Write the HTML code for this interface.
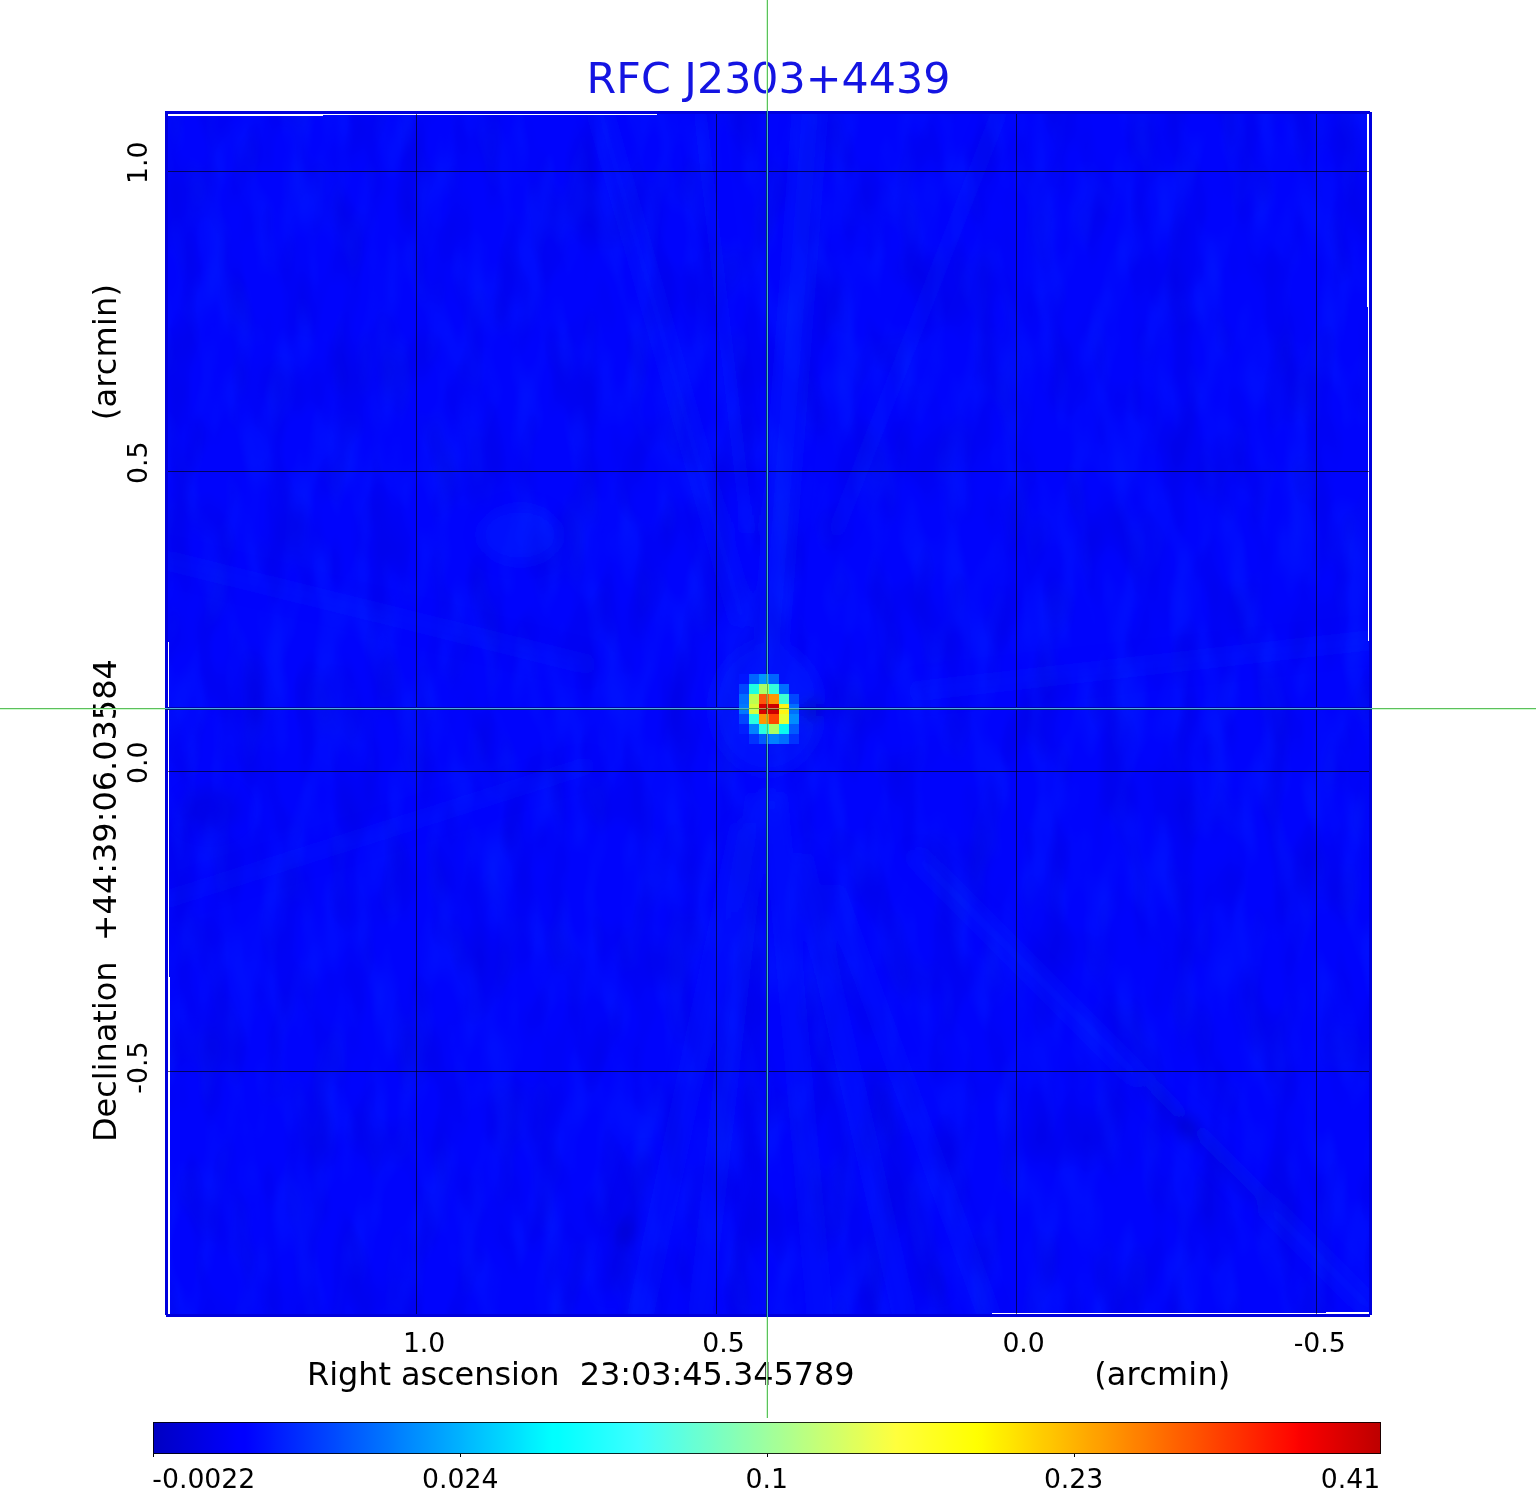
<!DOCTYPE html>
<html lang="en"><head><meta charset="utf-8"><title>RFC J2303+4439</title>
<style>html,body{margin:0;padding:0;background:#fff}body{width:1536px;height:1511px;overflow:hidden}svg{display:block}text{font-family:"DejaVu Sans","Liberation Sans",sans-serif}</style>
</head><body>
<svg width="1536" height="1511" viewBox="0 0 1536 1511">
<rect width="1536" height="1511" fill="#fff"/>
<g shape-rendering="crispEdges">
<rect x="165" y="111" width="1207" height="1206" fill="#0004fc"/>
</g>
<defs><filter id="bl" x="-5%" y="-5%" width="110%" height="110%"><feGaussianBlur stdDeviation="8"/></filter><clipPath id="imclip"><rect x="168" y="114" width="1201" height="1200"/></clipPath></defs>
<defs><filter id="nz" x="0" y="0" width="100%" height="100%" color-interpolation-filters="sRGB"><feTurbulence type="fractalNoise" baseFrequency="0.035 0.012" numOctaves="2" seed="7" result="t"/><feColorMatrix in="t" type="matrix" values="0 0 0 0 0  0 0 0 0 0.15  0 0 0 0 1  1.0 0 0 0 -0.44"/></filter><filter id="nz2" x="0" y="0" width="100%" height="100%" color-interpolation-filters="sRGB"><feTurbulence type="fractalNoise" baseFrequency="0.03 0.012" numOctaves="2" seed="23" result="t"/><feColorMatrix in="t" type="matrix" values="0 0 0 0 0  0 0 0 0 0  0 0 0 0 0.84  1.0 0 0 0 -0.44"/></filter></defs>
<rect x="168" y="114" width="1201" height="1200" filter="url(#nz)"/>
<rect x="168" y="114" width="1201" height="1200" filter="url(#nz2)"/>
<g clip-path="url(#imclip)"><g filter="url(#bl)" fill="none" stroke-linecap="round">
<line x1="772" y1="636" x2="810" y2="111" stroke="rgb(0,44,255)" stroke-width="26" stroke-opacity="0.36"/>
<line x1="742" y1="618" x2="600" y2="111" stroke="rgb(0,44,255)" stroke-width="18" stroke-opacity="0.28"/>
<line x1="747" y1="529" x2="700" y2="111" stroke="rgb(0,44,255)" stroke-width="14" stroke-opacity="0.20"/>
<line x1="837" y1="529" x2="1000" y2="111" stroke="rgb(0,44,255)" stroke-width="16" stroke-opacity="0.18"/>
<line x1="742" y1="830" x2="640" y2="1317" stroke="rgb(0,44,255)" stroke-width="16" stroke-opacity="0.28"/>
<line x1="757" y1="799" x2="700" y2="1317" stroke="rgb(0,44,255)" stroke-width="14" stroke-opacity="0.32"/>
<line x1="756" y1="952" x2="740" y2="1317" stroke="rgb(0,0,200)" stroke-width="10" stroke-opacity="0.24"/>
<line x1="775" y1="799" x2="820" y2="1317" stroke="rgb(0,44,255)" stroke-width="16" stroke-opacity="0.32"/>
<line x1="813" y1="982" x2="870" y2="1317" stroke="rgb(0,0,200)" stroke-width="10" stroke-opacity="0.24"/>
<line x1="802" y1="860" x2="905" y2="1317" stroke="rgb(0,44,255)" stroke-width="14" stroke-opacity="0.32"/>
<line x1="874" y1="1073" x2="936" y2="1287" stroke="rgb(0,0,200)" stroke-width="10" stroke-opacity="0.36"/>
<line x1="834" y1="891" x2="990" y2="1317" stroke="rgb(0,44,255)" stroke-width="14" stroke-opacity="0.24"/>
<line x1="645" y1="1159" x2="610" y2="1287" stroke="rgb(0,0,200)" stroke-width="10" stroke-opacity="0.44"/>
<ellipse cx="625" cy="1232" rx="7" ry="14" fill="rgb(0,0,170)" fill-opacity="0.6" transform="rotate(14 625 1232)"/>
<line x1="918" y1="858" x2="1372" y2="1310" stroke="rgb(0,44,255)" stroke-width="18" stroke-opacity="0.24"/>
<line x1="1142" y1="1083" x2="1263" y2="1204" stroke="rgb(0,0,200)" stroke-width="10" stroke-opacity="0.44"/>
<ellipse cx="1187" cy="1127" rx="7" ry="13" fill="rgb(0,0,170)" fill-opacity="0.6" transform="rotate(-45 1187 1127)"/>
<line x1="586" y1="664" x2="165" y2="560" stroke="rgb(0,44,255)" stroke-width="20" stroke-opacity="0.18"/>
<line x1="918" y1="691" x2="1372" y2="640" stroke="rgb(0,44,255)" stroke-width="20" stroke-opacity="0.18"/>
<line x1="586" y1="766" x2="165" y2="900" stroke="rgb(0,44,255)" stroke-width="18" stroke-opacity="0.14"/>
<ellipse cx="520" cy="535" rx="40" ry="28" fill="rgb(0,44,255)" fill-opacity="0.35"/>
<ellipse cx="210" cy="810" rx="30" ry="20" fill="rgb(0,0,200)" fill-opacity="0.30"/>
<ellipse cx="767" cy="708" rx="55" ry="65" fill="rgb(0,44,255)" fill-opacity="0.30"/>
<ellipse cx="812" cy="710" rx="10" ry="8" fill="rgb(0,0,170)" fill-opacity="0.8"/>
</g></g>
<g shape-rendering="crispEdges">
<rect x="168" y="114" width="489" height="1" fill="#fff"/>
<rect x="168" y="115" width="155" height="1" fill="#fff"/>
<rect x="1368" y="114" width="1" height="527" fill="#fff"/>
<rect x="1367" y="114" width="1" height="193" fill="#fff"/>
<rect x="992" y="1313" width="377" height="1" fill="#fff"/>
<rect x="1326" y="1312" width="43" height="1" fill="#fff"/>
<rect x="168" y="642" width="1" height="672" fill="#fff"/>
<rect x="169" y="977" width="1" height="337" fill="#fff"/>
<rect x="416" y="114" width="1" height="1200" fill="#000" fill-opacity="0.6"/>
<rect x="716" y="114" width="1" height="1200" fill="#000" fill-opacity="0.6"/>
<rect x="1016" y="114" width="1" height="1200" fill="#000" fill-opacity="0.6"/>
<rect x="1316" y="114" width="1" height="1200" fill="#000" fill-opacity="0.6"/>
<rect x="168" y="171" width="1201" height="1" fill="#000" fill-opacity="0.6"/>
<rect x="168" y="471" width="1201" height="1" fill="#000" fill-opacity="0.6"/>
<rect x="168" y="771" width="1201" height="1" fill="#000" fill-opacity="0.6"/>
<rect x="168" y="1071" width="1201" height="1" fill="#000" fill-opacity="0.6"/>
<rect x="165" y="111" width="1207" height="3" fill="#0000dc"/>
<rect x="165" y="1314" width="1207" height="3" fill="#0000dc"/>
<rect x="165" y="111" width="3" height="1206" fill="#0000dc"/>
<rect x="1369" y="111" width="3" height="1206" fill="#0000dc"/>
<rect x="1370" y="111" width="2" height="1" fill="#fff"/>
<rect x="1370" y="1315" width="2" height="2" fill="#fff"/>
<rect x="165" y="1315" width="1" height="2" fill="#fff"/>
<rect x="165" y="707" width="1207" height="1" fill="rgb(0,0,175)"/>
<rect x="165" y="709" width="1207" height="1" fill="rgb(0,40,110)"/>
<rect x="766" y="111" width="1" height="1206" fill="rgb(0,55,105)"/>
<rect x="768" y="111" width="1" height="1206" fill="rgb(0,0,200)"/>
<rect x="165" y="708" width="1207" height="1" fill="rgb(80,172,222)"/>
<rect x="767" y="111" width="1" height="1206" fill="rgb(66,178,205)"/>
<rect x="739" y="674" width="10" height="10" fill="rgb(0,20,255)"/>
<rect x="749" y="674" width="10" height="10" fill="rgb(0,100,255)"/>
<rect x="759" y="674" width="10" height="10" fill="rgb(0,150,255)"/>
<rect x="769" y="674" width="10" height="10" fill="rgb(0,100,255)"/>
<rect x="739" y="684" width="10" height="10" fill="rgb(0,70,255)"/>
<rect x="749" y="684" width="10" height="10" fill="rgb(30,255,225)"/>
<rect x="759" y="684" width="10" height="10" fill="rgb(170,255,100)"/>
<rect x="769" y="684" width="10" height="10" fill="rgb(50,255,220)"/>
<rect x="779" y="684" width="10" height="10" fill="rgb(0,110,255)"/>
<rect x="739" y="694" width="10" height="10" fill="rgb(0,110,255)"/>
<rect x="749" y="694" width="10" height="10" fill="rgb(190,255,80)"/>
<rect x="759" y="694" width="10" height="10" fill="rgb(255,85,10)"/>
<rect x="769" y="694" width="10" height="10" fill="rgb(255,150,0)"/>
<rect x="779" y="694" width="10" height="10" fill="rgb(60,255,210)"/>
<rect x="789" y="694" width="10" height="10" fill="rgb(0,70,255)"/>
<rect x="739" y="704" width="10" height="10" fill="rgb(0,120,255)"/>
<rect x="749" y="704" width="10" height="10" fill="rgb(215,255,60)"/>
<rect x="759" y="704" width="10" height="10" fill="rgb(215,0,0)"/>
<rect x="769" y="704" width="10" height="10" fill="rgb(205,0,0)"/>
<rect x="779" y="704" width="10" height="10" fill="rgb(255,245,20)"/>
<rect x="789" y="704" width="10" height="10" fill="rgb(0,110,255)"/>
<rect x="739" y="714" width="10" height="10" fill="rgb(0,70,255)"/>
<rect x="749" y="714" width="10" height="10" fill="rgb(40,255,225)"/>
<rect x="759" y="714" width="10" height="10" fill="rgb(255,150,0)"/>
<rect x="769" y="714" width="10" height="10" fill="rgb(255,70,0)"/>
<rect x="779" y="714" width="10" height="10" fill="rgb(230,255,50)"/>
<rect x="789" y="714" width="10" height="10" fill="rgb(0,140,255)"/>
<rect x="739" y="724" width="10" height="10" fill="rgb(0,30,255)"/>
<rect x="749" y="724" width="10" height="10" fill="rgb(0,130,255)"/>
<rect x="759" y="724" width="10" height="10" fill="rgb(40,255,225)"/>
<rect x="769" y="724" width="10" height="10" fill="rgb(170,255,100)"/>
<rect x="779" y="724" width="10" height="10" fill="rgb(10,250,240)"/>
<rect x="789" y="724" width="10" height="10" fill="rgb(0,90,255)"/>
<rect x="749" y="734" width="10" height="10" fill="rgb(0,50,255)"/>
<rect x="759" y="734" width="10" height="10" fill="rgb(0,90,255)"/>
<rect x="769" y="734" width="10" height="10" fill="rgb(0,130,255)"/>
<rect x="779" y="734" width="10" height="10" fill="rgb(0,110,255)"/>
<rect x="789" y="734" width="10" height="10" fill="rgb(0,50,255)"/>
<rect x="739" y="708" width="10" height="1" fill="rgb(72,182,199)"/>
<rect x="739" y="709" width="10" height="1" fill="rgb(20,130,148)"/>
<rect x="749" y="708" width="10" height="1" fill="rgb(118,188,41)"/>
<rect x="749" y="709" width="10" height="1" fill="rgb(189,255,111)"/>
<rect x="759" y="708" width="10" height="1" fill="rgb(197,139,89)"/>
<rect x="759" y="709" width="10" height="1" fill="rgb(110,53,3)"/>
<rect x="769" y="708" width="10" height="1" fill="rgb(193,141,91)"/>
<rect x="769" y="709" width="10" height="1" fill="rgb(104,51,1)"/>
<rect x="779" y="708" width="10" height="1" fill="rgb(138,183,20)"/>
<rect x="779" y="709" width="10" height="1" fill="rgb(209,254,92)"/>
<rect x="789" y="708" width="10" height="1" fill="rgb(75,180,202)"/>
<rect x="789" y="709" width="10" height="1" fill="rgb(17,122,145)"/>
<rect x="767" y="674" width="1" height="10" fill="rgb(63,188,190)"/>
<rect x="766" y="674" width="1" height="10" fill="rgb(29,154,157)"/>
<rect x="767" y="684" width="1" height="10" fill="rgb(100,193,65)"/>
<rect x="766" y="684" width="1" height="10" fill="rgb(162,254,127)"/>
<rect x="767" y="694" width="1" height="10" fill="rgb(185,150,63)"/>
<rect x="766" y="694" width="1" height="10" fill="rgb(162,127,39)"/>
<rect x="767" y="704" width="1" height="10" fill="rgb(197,139,89)"/>
<rect x="766" y="704" width="1" height="10" fill="rgb(110,53,3)"/>
<rect x="767" y="714" width="1" height="10" fill="rgb(167,164,39)"/>
<rect x="766" y="714" width="1" height="10" fill="rgb(180,178,53)"/>
<rect x="767" y="724" width="1" height="10" fill="rgb(48,205,140)"/>
<rect x="766" y="724" width="1" height="10" fill="rgb(84,242,177)"/>
<rect x="767" y="734" width="1" height="10" fill="rgb(80,175,208)"/>
<rect x="766" y="734" width="1" height="10" fill="rgb(12,107,139)"/>
<rect x="767" y="708" width="1" height="1" fill="rgb(60,170,40)"/>
</g>
<text x="768.5" y="93" font-size="42.75" fill="#1414e2" text-anchor="middle">RFC J2303+4439</text>
<text transform="translate(147.1,141.6) rotate(-90)" font-size="26.70" text-anchor="end" fill="#000">1.0</text>
<text transform="translate(147.1,441.6) rotate(-90)" font-size="26.70" text-anchor="end" fill="#000">0.5</text>
<text transform="translate(147.1,741.6) rotate(-90)" font-size="26.70" text-anchor="end" fill="#000">0.0</text>
<text transform="translate(147.1,1041.6) rotate(-90)" font-size="26.70" text-anchor="end" fill="#000">-0.5</text>
<text transform="translate(116.1,1142) rotate(-90)" font-size="31.94" fill="#000" xml:space="preserve">Declination  +44:39:06.03584</text>
<text transform="translate(116.1,420.2) rotate(-90)" font-size="31.94" fill="#000" letter-spacing="0.2">(arcmin)</text>
<text x="402.9" y="1351.9" font-size="26.70" fill="#000">1.0</text>
<text x="702.3" y="1351.9" font-size="26.70" fill="#000">0.5</text>
<text x="1002.4" y="1351.9" font-size="26.70" fill="#000">0.0</text>
<text x="1293.7" y="1351.9" font-size="26.70" fill="#000">-0.5</text>
<text x="307.0" y="1385.1" font-size="31.94" fill="#000" letter-spacing="-0.045" xml:space="preserve">Right ascension  23:03:45.345789</text>
<text x="1094.2" y="1385.1" font-size="31.94" fill="#000" letter-spacing="0.2">(arcmin)</text>
<defs><linearGradient id="cb" x1="0" y1="0" x2="1" y2="0"><stop offset="0.0000" stop-color="rgb(0,0,194)"/><stop offset="0.0050" stop-color="rgb(0,0,198)"/><stop offset="0.0100" stop-color="rgb(0,0,203)"/><stop offset="0.0150" stop-color="rgb(0,0,207)"/><stop offset="0.0200" stop-color="rgb(0,0,211)"/><stop offset="0.0250" stop-color="rgb(0,0,216)"/><stop offset="0.0300" stop-color="rgb(0,0,220)"/><stop offset="0.0350" stop-color="rgb(0,0,224)"/><stop offset="0.0400" stop-color="rgb(0,0,229)"/><stop offset="0.0450" stop-color="rgb(0,0,233)"/><stop offset="0.0500" stop-color="rgb(0,0,238)"/><stop offset="0.0550" stop-color="rgb(0,0,242)"/><stop offset="0.0600" stop-color="rgb(0,0,246)"/><stop offset="0.0650" stop-color="rgb(0,0,251)"/><stop offset="0.0700" stop-color="rgb(0,0,255)"/><stop offset="0.0750" stop-color="rgb(0,0,255)"/><stop offset="0.0800" stop-color="rgb(0,5,255)"/><stop offset="0.0850" stop-color="rgb(0,10,255)"/><stop offset="0.0900" stop-color="rgb(0,15,255)"/><stop offset="0.0950" stop-color="rgb(0,20,255)"/><stop offset="0.1000" stop-color="rgb(0,26,255)"/><stop offset="0.1050" stop-color="rgb(0,31,255)"/><stop offset="0.1100" stop-color="rgb(0,36,255)"/><stop offset="0.1150" stop-color="rgb(0,41,255)"/><stop offset="0.1200" stop-color="rgb(0,46,255)"/><stop offset="0.1250" stop-color="rgb(0,51,255)"/><stop offset="0.1300" stop-color="rgb(0,56,255)"/><stop offset="0.1350" stop-color="rgb(0,61,255)"/><stop offset="0.1400" stop-color="rgb(0,66,255)"/><stop offset="0.1450" stop-color="rgb(0,71,255)"/><stop offset="0.1500" stop-color="rgb(0,76,255)"/><stop offset="0.1550" stop-color="rgb(0,82,255)"/><stop offset="0.1600" stop-color="rgb(0,87,255)"/><stop offset="0.1650" stop-color="rgb(0,92,255)"/><stop offset="0.1700" stop-color="rgb(0,97,255)"/><stop offset="0.1750" stop-color="rgb(0,102,255)"/><stop offset="0.1800" stop-color="rgb(0,107,255)"/><stop offset="0.1850" stop-color="rgb(0,112,255)"/><stop offset="0.1900" stop-color="rgb(0,117,255)"/><stop offset="0.1950" stop-color="rgb(0,122,255)"/><stop offset="0.2000" stop-color="rgb(0,128,255)"/><stop offset="0.2050" stop-color="rgb(0,133,255)"/><stop offset="0.2100" stop-color="rgb(0,138,255)"/><stop offset="0.2150" stop-color="rgb(0,143,255)"/><stop offset="0.2200" stop-color="rgb(0,148,255)"/><stop offset="0.2250" stop-color="rgb(0,153,255)"/><stop offset="0.2300" stop-color="rgb(0,158,255)"/><stop offset="0.2350" stop-color="rgb(0,163,255)"/><stop offset="0.2400" stop-color="rgb(0,168,255)"/><stop offset="0.2450" stop-color="rgb(0,173,255)"/><stop offset="0.2500" stop-color="rgb(0,178,255)"/><stop offset="0.2550" stop-color="rgb(0,184,255)"/><stop offset="0.2600" stop-color="rgb(0,189,255)"/><stop offset="0.2650" stop-color="rgb(0,194,255)"/><stop offset="0.2700" stop-color="rgb(0,199,255)"/><stop offset="0.2750" stop-color="rgb(0,204,255)"/><stop offset="0.2800" stop-color="rgb(0,209,255)"/><stop offset="0.2850" stop-color="rgb(0,214,255)"/><stop offset="0.2900" stop-color="rgb(0,219,255)"/><stop offset="0.2950" stop-color="rgb(0,224,255)"/><stop offset="0.3000" stop-color="rgb(0,229,255)"/><stop offset="0.3050" stop-color="rgb(0,235,255)"/><stop offset="0.3100" stop-color="rgb(0,240,255)"/><stop offset="0.3150" stop-color="rgb(0,245,255)"/><stop offset="0.3200" stop-color="rgb(0,250,255)"/><stop offset="0.3250" stop-color="rgb(0,255,255)"/><stop offset="0.3300" stop-color="rgb(1,255,255)"/><stop offset="0.3350" stop-color="rgb(6,255,255)"/><stop offset="0.3400" stop-color="rgb(10,255,255)"/><stop offset="0.3450" stop-color="rgb(15,255,255)"/><stop offset="0.3500" stop-color="rgb(19,255,255)"/><stop offset="0.3550" stop-color="rgb(24,255,255)"/><stop offset="0.3600" stop-color="rgb(29,255,255)"/><stop offset="0.3650" stop-color="rgb(33,255,255)"/><stop offset="0.3700" stop-color="rgb(38,255,255)"/><stop offset="0.3750" stop-color="rgb(42,255,255)"/><stop offset="0.3800" stop-color="rgb(47,255,255)"/><stop offset="0.3850" stop-color="rgb(52,255,255)"/><stop offset="0.3900" stop-color="rgb(56,255,255)"/><stop offset="0.3950" stop-color="rgb(61,255,255)"/><stop offset="0.4000" stop-color="rgb(66,255,250)"/><stop offset="0.4050" stop-color="rgb(70,255,246)"/><stop offset="0.4100" stop-color="rgb(75,255,241)"/><stop offset="0.4150" stop-color="rgb(79,255,237)"/><stop offset="0.4200" stop-color="rgb(84,255,232)"/><stop offset="0.4250" stop-color="rgb(89,255,227)"/><stop offset="0.4300" stop-color="rgb(93,255,223)"/><stop offset="0.4350" stop-color="rgb(98,255,218)"/><stop offset="0.4400" stop-color="rgb(103,255,213)"/><stop offset="0.4450" stop-color="rgb(107,255,209)"/><stop offset="0.4500" stop-color="rgb(112,255,204)"/><stop offset="0.4550" stop-color="rgb(116,255,200)"/><stop offset="0.4600" stop-color="rgb(121,255,195)"/><stop offset="0.4650" stop-color="rgb(126,255,190)"/><stop offset="0.4700" stop-color="rgb(130,255,186)"/><stop offset="0.4750" stop-color="rgb(135,255,181)"/><stop offset="0.4800" stop-color="rgb(140,255,176)"/><stop offset="0.4850" stop-color="rgb(144,255,172)"/><stop offset="0.4900" stop-color="rgb(149,255,167)"/><stop offset="0.4950" stop-color="rgb(153,255,163)"/><stop offset="0.5000" stop-color="rgb(158,255,158)"/><stop offset="0.5050" stop-color="rgb(163,255,153)"/><stop offset="0.5100" stop-color="rgb(167,255,149)"/><stop offset="0.5150" stop-color="rgb(172,255,144)"/><stop offset="0.5200" stop-color="rgb(176,255,140)"/><stop offset="0.5250" stop-color="rgb(181,255,135)"/><stop offset="0.5300" stop-color="rgb(186,255,130)"/><stop offset="0.5350" stop-color="rgb(190,255,126)"/><stop offset="0.5400" stop-color="rgb(195,255,121)"/><stop offset="0.5450" stop-color="rgb(200,255,116)"/><stop offset="0.5500" stop-color="rgb(204,255,112)"/><stop offset="0.5550" stop-color="rgb(209,255,107)"/><stop offset="0.5600" stop-color="rgb(213,255,103)"/><stop offset="0.5650" stop-color="rgb(218,255,98)"/><stop offset="0.5700" stop-color="rgb(223,255,93)"/><stop offset="0.5750" stop-color="rgb(227,255,89)"/><stop offset="0.5800" stop-color="rgb(232,255,84)"/><stop offset="0.5850" stop-color="rgb(237,255,79)"/><stop offset="0.5900" stop-color="rgb(241,255,75)"/><stop offset="0.5950" stop-color="rgb(246,255,70)"/><stop offset="0.6000" stop-color="rgb(250,255,66)"/><stop offset="0.6050" stop-color="rgb(255,255,61)"/><stop offset="0.6100" stop-color="rgb(255,255,56)"/><stop offset="0.6150" stop-color="rgb(255,255,52)"/><stop offset="0.6200" stop-color="rgb(255,255,47)"/><stop offset="0.6250" stop-color="rgb(255,255,43)"/><stop offset="0.6300" stop-color="rgb(255,255,38)"/><stop offset="0.6350" stop-color="rgb(255,255,33)"/><stop offset="0.6400" stop-color="rgb(255,255,29)"/><stop offset="0.6450" stop-color="rgb(255,255,24)"/><stop offset="0.6500" stop-color="rgb(255,255,19)"/><stop offset="0.6550" stop-color="rgb(255,255,15)"/><stop offset="0.6600" stop-color="rgb(255,255,10)"/><stop offset="0.6650" stop-color="rgb(255,255,6)"/><stop offset="0.6700" stop-color="rgb(255,255,1)"/><stop offset="0.6750" stop-color="rgb(255,252,0)"/><stop offset="0.6800" stop-color="rgb(255,247,0)"/><stop offset="0.6850" stop-color="rgb(255,242,0)"/><stop offset="0.6900" stop-color="rgb(255,237,0)"/><stop offset="0.6950" stop-color="rgb(255,233,0)"/><stop offset="0.7000" stop-color="rgb(255,228,0)"/><stop offset="0.7050" stop-color="rgb(255,223,0)"/><stop offset="0.7100" stop-color="rgb(255,218,0)"/><stop offset="0.7150" stop-color="rgb(255,213,0)"/><stop offset="0.7200" stop-color="rgb(255,208,0)"/><stop offset="0.7250" stop-color="rgb(255,203,0)"/><stop offset="0.7300" stop-color="rgb(255,199,0)"/><stop offset="0.7350" stop-color="rgb(255,194,0)"/><stop offset="0.7400" stop-color="rgb(255,189,0)"/><stop offset="0.7450" stop-color="rgb(255,184,0)"/><stop offset="0.7500" stop-color="rgb(255,179,0)"/><stop offset="0.7550" stop-color="rgb(255,174,0)"/><stop offset="0.7600" stop-color="rgb(255,169,0)"/><stop offset="0.7650" stop-color="rgb(255,164,0)"/><stop offset="0.7700" stop-color="rgb(255,160,0)"/><stop offset="0.7750" stop-color="rgb(255,155,0)"/><stop offset="0.7800" stop-color="rgb(255,150,0)"/><stop offset="0.7850" stop-color="rgb(255,145,0)"/><stop offset="0.7900" stop-color="rgb(255,140,0)"/><stop offset="0.7950" stop-color="rgb(255,135,0)"/><stop offset="0.8000" stop-color="rgb(255,130,0)"/><stop offset="0.8050" stop-color="rgb(255,126,0)"/><stop offset="0.8100" stop-color="rgb(255,121,0)"/><stop offset="0.8150" stop-color="rgb(255,116,0)"/><stop offset="0.8200" stop-color="rgb(255,111,0)"/><stop offset="0.8250" stop-color="rgb(255,106,0)"/><stop offset="0.8300" stop-color="rgb(255,101,0)"/><stop offset="0.8350" stop-color="rgb(255,96,0)"/><stop offset="0.8400" stop-color="rgb(255,91,0)"/><stop offset="0.8450" stop-color="rgb(255,87,0)"/><stop offset="0.8500" stop-color="rgb(255,82,0)"/><stop offset="0.8550" stop-color="rgb(255,77,0)"/><stop offset="0.8600" stop-color="rgb(255,72,0)"/><stop offset="0.8650" stop-color="rgb(255,67,0)"/><stop offset="0.8700" stop-color="rgb(255,62,0)"/><stop offset="0.8750" stop-color="rgb(255,57,0)"/><stop offset="0.8800" stop-color="rgb(255,53,0)"/><stop offset="0.8850" stop-color="rgb(255,48,0)"/><stop offset="0.8900" stop-color="rgb(255,43,0)"/><stop offset="0.8950" stop-color="rgb(255,38,0)"/><stop offset="0.9000" stop-color="rgb(255,33,0)"/><stop offset="0.9050" stop-color="rgb(255,28,0)"/><stop offset="0.9100" stop-color="rgb(255,23,0)"/><stop offset="0.9150" stop-color="rgb(255,18,0)"/><stop offset="0.9200" stop-color="rgb(255,14,0)"/><stop offset="0.9250" stop-color="rgb(255,9,0)"/><stop offset="0.9300" stop-color="rgb(255,4,0)"/><stop offset="0.9350" stop-color="rgb(250,0,0)"/><stop offset="0.9400" stop-color="rgb(246,0,0)"/><stop offset="0.9450" stop-color="rgb(241,0,0)"/><stop offset="0.9500" stop-color="rgb(236,0,0)"/><stop offset="0.9550" stop-color="rgb(231,0,0)"/><stop offset="0.9600" stop-color="rgb(227,0,0)"/><stop offset="0.9650" stop-color="rgb(222,0,0)"/><stop offset="0.9700" stop-color="rgb(217,0,0)"/><stop offset="0.9750" stop-color="rgb(212,0,0)"/><stop offset="0.9800" stop-color="rgb(208,0,0)"/><stop offset="0.9850" stop-color="rgb(203,0,0)"/><stop offset="0.9900" stop-color="rgb(198,0,0)"/><stop offset="0.9950" stop-color="rgb(193,0,0)"/><stop offset="1.0000" stop-color="rgb(189,0,0)"/></linearGradient></defs>
<g shape-rendering="crispEdges">
<rect x="153" y="1422" width="1228" height="32" fill="url(#cb)"/>
<rect x="153.5" y="1422.5" width="1227" height="31" fill="none" stroke="#000" stroke-opacity="0.85" stroke-width="1"/>
<rect x="153" y="1454" width="1" height="3" fill="#000"/>
<rect x="460" y="1454" width="1" height="3" fill="#000"/>
<rect x="767" y="1454" width="1" height="3" fill="#000"/>
<rect x="1074" y="1454" width="1" height="3" fill="#000"/>
</g>
<text x="152.3" y="1487.9" font-size="26.70" fill="#000">-0.0022</text>
<text x="460.2" y="1487.9" font-size="26.70" fill="#000" text-anchor="middle">0.024</text>
<text x="766.8" y="1487.9" font-size="26.70" fill="#000" text-anchor="middle">0.1</text>
<text x="1073.6" y="1487.9" font-size="26.70" fill="#000" text-anchor="middle">0.23</text>
<text x="1380.2" y="1487.9" font-size="26.70" fill="#000" text-anchor="end">0.41</text>
<g shape-rendering="crispEdges">
<rect x="767" y="0" width="1" height="111" fill="rgb(92,192,92)"/>
<rect x="767" y="1317" width="1" height="101" fill="rgb(92,192,92)"/>
<rect x="0" y="708" width="165" height="1" fill="rgb(92,192,92)"/>
<rect x="1372" y="708" width="164" height="1" fill="rgb(92,192,92)"/>
<rect x="0" y="709" width="165" height="1" fill="rgb(206,250,206)"/>
<rect x="1372" y="709" width="164" height="1" fill="rgb(206,250,206)"/>
<rect x="766" y="0" width="1" height="111" fill="rgb(206,250,206)"/>
<rect x="766" y="1317" width="1" height="101" fill="rgb(206,250,206)"/>
</g>
</svg>
</body></html>
